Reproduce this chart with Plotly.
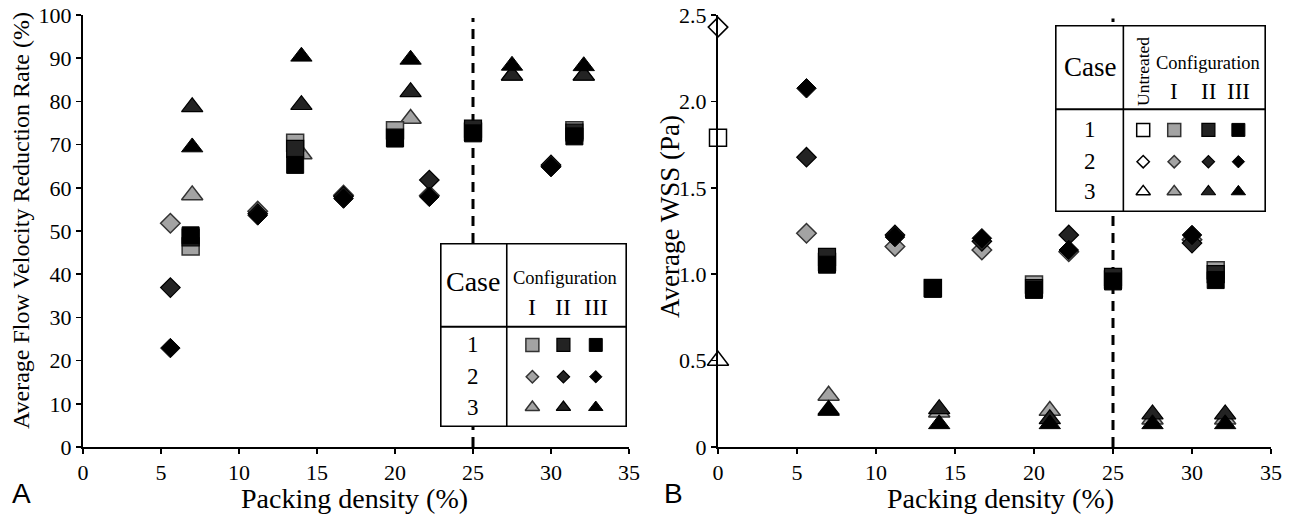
import plotly.graph_objects as go

W, H = 1291, 519
SERIF = "Liberation Serif"
SANS = "Liberation Sans"

# ---------------- data ----------------
case1_density = [6.9, 13.6, 20.0, 25.0, 31.5]
case2_density = [5.6, 11.2, 16.7, 22.2, 30.0]
case3_density = [7.0, 14.0, 21.0, 27.5, 32.1]
untreated_density = [0.0]
threshold_density = 25

# Panel A: average flow velocity reduction rate (%)
vel_case1_I = [46.4, 70.4, 73.3, 73.0, 73.3]
vel_case1_II = [48.5, 69.0, 71.6, 73.7, 72.8]
vel_case1_III = [49.0, 65.3, 71.4, 72.6, 71.9]
vel_case2_I = [51.8, 54.6, 58.3, 58.2, 65.0]
vel_case2_II = [36.9, 54.0, 58.0, 61.8, 65.3]
vel_case2_III = [22.9, 53.6, 57.5, 57.9, 64.8]
vel_case3_I = [58.3, 67.8, 76.0, 86.0, 86.0]
vel_case3_II = [78.7, 79.2, 82.2, 86.0, 86.0]
vel_case3_III = [69.4, 90.4, 89.7, 88.3, 88.2]

# Panel B: average WSS (Pa)
wss_untreated_case1 = [1.79]
wss_untreated_case2 = [2.43]
wss_untreated_case3 = [0.50]
wss_case1_I = [1.07, 0.92, 0.94, 0.97, 1.023]
wss_case1_II = [1.10, 0.92, 0.92, 0.985, 1.00]
wss_case1_III = [1.055, 0.915, 0.909, 0.958, 0.966]
wss_case2_I = [1.237, 1.16, 1.14, 1.13, 1.20]
wss_case2_II = [1.677, 1.227, 1.19, 1.227, 1.18]
wss_case2_III = [2.076, 1.215, 1.208, 1.14, 1.227]
wss_case3_I = [0.298, 0.20, 0.21, 0.16, 0.16]
wss_case3_II = [0.215, 0.22, 0.162, 0.19, 0.19]
wss_case3_III = [0.21, 0.133, 0.133, 0.133, 0.133]

x_ticks = [0, 5, 10, 15, 20, 25, 30, 35]
vel_ticks = [0, 10, 20, 30, 40, 50, 60, 70, 80, 90, 100]
wss_ticks = [0, 0.5, 1.0, 1.5, 2.0, 2.5]
wss_ticktext = ["0", "0.5", "1.0", "1.5", "2.0", "2.5"]

config_labels = ["I", "II", "III"]
case_labels = ["1", "2", "3"]

# ---------------- styles ----------------
STYLE = {
    "U": dict(color="white", line=dict(color="black", width=1.5)),
    "I": dict(color="#a3a3a3", line=dict(color="#333333", width=1.5)),
    "II": dict(color="#232323", line=dict(color="black", width=1.2)),
    "III": dict(color="black", line=dict(color="black", width=1)),
}
SYMBOL = {"1": "square", "2": "diamond", "3": "triangle-up"}
SIZE = {"1": 17, "2": 15, "3": 18.5}
LEG_SIZE = {"1": 13, "2": 9.5, "3": 12.5}

fig = go.Figure()


def add_points(xs, ys, case, cfg, xa, ya):
    fig.add_trace(go.Scatter(
        x=xs, y=ys, mode="markers", xaxis=xa, yaxis=ya, cliponaxis=False,
        showlegend=False, hoverinfo="skip",
        marker=dict(symbol=SYMBOL[case], size=SIZE[case], **STYLE[cfg]),
    ))


# dashed threshold lines (drawn first, under markers)
fig.add_trace(go.Scatter(x=[threshold_density, threshold_density], y=[0, 99.3],
                         mode="lines", xaxis="x", yaxis="y", showlegend=False,
                         line=dict(color="black", width=3, dash="10px,7px"), hoverinfo="skip"))
fig.add_trace(go.Scatter(x=[threshold_density, threshold_density], y=[0, 2.48],
                         mode="lines", xaxis="x2", yaxis="y2", showlegend=False,
                         line=dict(color="black", width=3, dash="10px,7px"), hoverinfo="skip"))

# Panel A
for cfg, ys in zip(config_labels, [vel_case3_I, vel_case3_II, vel_case3_III]):
    add_points(case3_density, ys, "3", cfg, "x", "y")
for cfg, ys in zip(config_labels, [vel_case2_I, vel_case2_II, vel_case2_III]):
    add_points(case2_density, ys, "2", cfg, "x", "y")
for cfg, ys in zip(config_labels, [vel_case1_I, vel_case1_II, vel_case1_III]):
    add_points(case1_density, ys, "1", cfg, "x", "y")

# Panel B
add_points(untreated_density, wss_untreated_case1, "1", "U", "x2", "y2")
add_points(untreated_density, wss_untreated_case2, "2", "U", "x2", "y2")
add_points(untreated_density, wss_untreated_case3, "3", "U", "x2", "y2")
for cfg, ys in zip(config_labels, [wss_case3_I, wss_case3_II, wss_case3_III]):
    add_points(case3_density, ys, "3", cfg, "x2", "y2")
for cfg, ys in zip(config_labels, [wss_case2_I, wss_case2_II, wss_case2_III]):
    add_points(case2_density, ys, "2", cfg, "x2", "y2")
for cfg, ys in zip(config_labels, [wss_case1_I, wss_case1_II, wss_case1_III]):
    add_points(case1_density, ys, "1", cfg, "x2", "y2")


# ---------------- helpers: page pixel -> paper fraction ----------------
def px(x):
    return x / W


def py(y):
    return 1 - y / H


annotations = []


def txt(x, y, text, size, family=SERIF, angle=0, xref="paper", yref="paper"):
    return dict(x=x, y=y, xref=xref, yref=yref, text=text, showarrow=False,
                xanchor="center", yanchor="middle", textangle=angle,
                font=dict(family=family, size=size, color="black"))


def legend_table(xa, ya, vdiv, hdiv, cols, col_keys, rows, num_u, head):
    fig.add_trace(go.Scatter(x=[0, 1, 1, 0, 0], y=[0, 0, 1, 1, 0], mode="lines",
                             fill="toself", fillcolor="white", xaxis=xa, yaxis=ya,
                             cliponaxis=False, showlegend=False, hoverinfo="skip",
                             line=dict(color="black", width=3.2)))
    fig.add_trace(go.Scatter(x=[vdiv, vdiv], y=[0, 1], mode="lines", xaxis=xa, yaxis=ya,
                             cliponaxis=False, showlegend=False, hoverinfo="skip",
                             line=dict(color="black", width=1.6)))
    fig.add_trace(go.Scatter(x=[0, 1], y=[hdiv, hdiv], mode="lines", xaxis=xa, yaxis=ya,
                             cliponaxis=False, showlegend=False, hoverinfo="skip",
                             line=dict(color="black", width=2)))
    for case, rv in zip(case_labels, rows):
        for key, cu in zip(col_keys, cols):
            fig.add_trace(go.Scatter(x=[cu], y=[rv], mode="markers", xaxis=xa, yaxis=ya,
                                     cliponaxis=False, showlegend=False, hoverinfo="skip",
                                     marker=dict(symbol=SYMBOL[case], size=LEG_SIZE[case],
                                                 **STYLE[key])))
        annotations.append(txt(num_u, rv, case, 23, xref=xa, yref=ya))
    for (hx, hy, text, size, angle) in head:
        annotations.append(txt(hx, hy, text, size, angle=angle, xref=xa, yref=ya))


hidden = dict(range=[0, 1], visible=False, automargin=False, fixedrange=True)
fig.update_layout(
    xaxis3=dict(domain=[px(440), px(627)], anchor="y3", **hidden),
    yaxis3=dict(domain=[py(427), py(243)], anchor="x3", **hidden),
    xaxis4=dict(domain=[px(1055), px(1266)], anchor="y4", **hidden),
    yaxis4=dict(domain=[py(212), py(25)], anchor="x4", **hidden),
)

legend_table(
    "x3", "y3", 0.357, 0.545, [0.494, 0.660, 0.833], config_labels,
    [0.446, 0.273, 0.107], 0.175,
    [
        (0.175, 0.79, "Case", 28, 0),
        (0.668, 0.81, "Configuration", 18.5, 0),
        (0.494, 0.654, "I", 24, 0),
        (0.660, 0.654, "II", 24, 0),
        (0.833, 0.654, "III", 24, 0),
    ],
)
legend_table(
    "x4", "y4", 0.324, 0.549, [0.418, 0.565, 0.727, 0.869], ["U"] + config_labels,
    [0.439, 0.269, 0.109], 0.166,
    [
        (0.166, 0.777, "Case", 27, 0),
        (0.418, 0.75, "Untreated", 17.5, -90),
        (0.727, 0.797, "Configuration", 18.5, 0),
        (0.565, 0.643, "I", 23, 0),
        (0.727, 0.643, "II", 23, 0),
        (0.869, 0.643, "III", 23, 0),
    ],
)

# ---------------- titles / panel labels ----------------
annotations += [
    txt(px(354), py(498), "Packing density (%)", 28),
    txt(px(1000), py(498), "Packing density (%)", 28),
    txt(px(21), py(221), "Average Flow Velocity Reduction Rate (%)", 24, angle=-90),
    txt(px(670), py(217), "Average WSS (Pa)", 27, angle=-90),
    txt(px(21), py(493), "A", 28, family=SANS),
    txt(px(673), py(493), "B", 28, family=SANS),
]

axis_common = dict(showgrid=False, zeroline=False, showline=True, linecolor="black",
                   linewidth=2, ticks="outside", ticklen=5, tickwidth=1.5, tickcolor="black",
                   tickfont=dict(family=SERIF, size=22, color="black"), fixedrange=True,
                   automargin=False, ticklabeloverflow="allow")

fig.update_layout(
    template="none",
    width=W, height=H,
    margin=dict(l=0, r=0, t=0, b=0, pad=0, autoexpand=False),
    paper_bgcolor="white", plot_bgcolor="rgba(0,0,0,0)",
    showlegend=False,
    xaxis=dict(domain=[px(83), px(629)], range=[0, 35], tickvals=x_ticks, anchor="y",
               **axis_common),
    yaxis=dict(domain=[py(447), py(15)], range=[0, 100], tickvals=vel_ticks, anchor="x",
               **axis_common),
    xaxis2=dict(domain=[px(718), px(1271)], range=[0, 35], tickvals=x_ticks, anchor="y2",
                **axis_common),
    yaxis2=dict(domain=[py(447), py(15)], range=[0, 2.5], tickvals=wss_ticks,
                ticktext=wss_ticktext, anchor="x2", **axis_common),
    annotations=annotations,
)

# remove the page's default body margin so the figure sits at the window origin
fig.write_html("out.html",
               config={"displayModeBar": False, "staticPlot": True},
               post_script="document.body.style.margin='0';document.body.style.overflow='hidden';")
